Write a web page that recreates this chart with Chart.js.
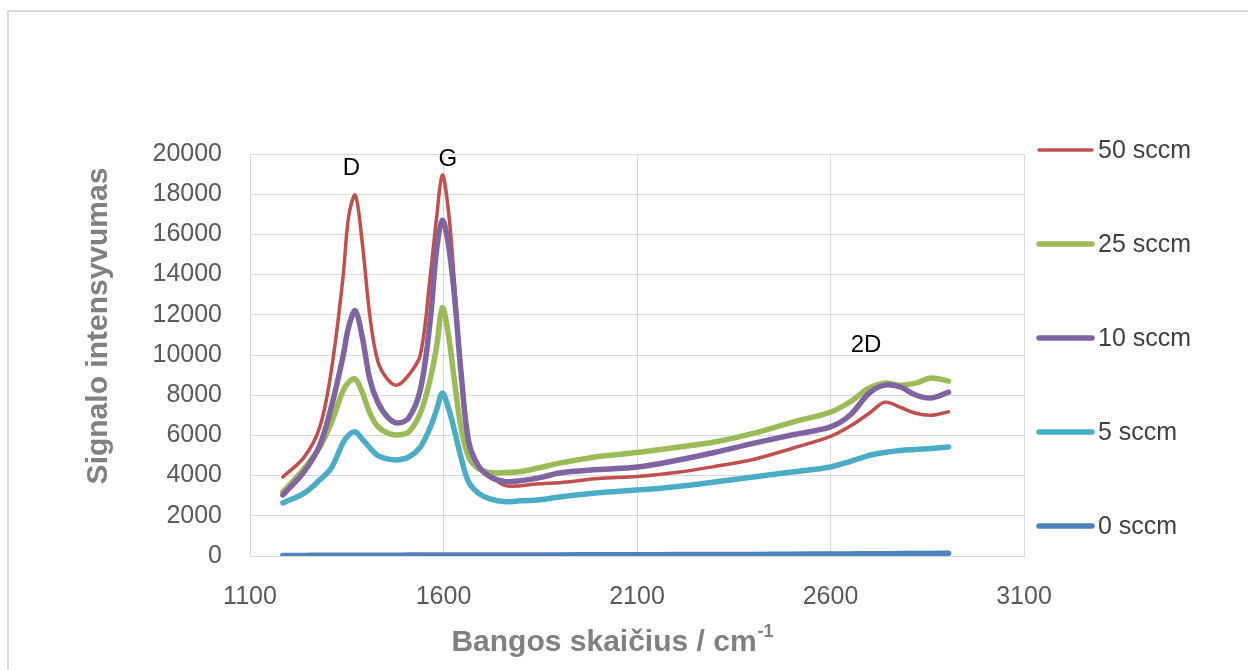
<!DOCTYPE html>
<html lang="lt">
<head>
<meta charset="utf-8">
<title>Ramano spektrai</title>
<script src="https://cdn.jsdelivr.net/npm/chart.js@4.4.1/dist/chart.umd.min.js"></script>
<style>
  html, body { margin: 0; padding: 0; background: #ffffff; }
  #wrap { position: relative; width: 1248px; height: 670px; }
</style>
</head>
<body>
<div id="wrap"><canvas id="chart" width="1248" height="670"></canvas></div>
<script>
// Bangos skaičius (cm-1)
const wavenumbers = [1185, 1240, 1280, 1310, 1340, 1355, 1372, 1390, 1410, 1430, 1455, 1480, 1510, 1540, 1565, 1582, 1597, 1612, 1628, 1645, 1665, 1690, 1720, 1760, 1800, 1850, 1900, 2000, 2100, 2200, 2300, 2400, 2500, 2600, 2650, 2700, 2740, 2780, 2820, 2860, 2905];

// Signalo intensyvumas kiekvienam srautui
const sccm50 = [3930, 4920, 6400, 9200, 13800, 16900, 17950, 15600, 11900, 9700, 8800, 8500, 9000, 10000, 13800, 16800, 18950, 17300, 13700, 9400, 5800, 4500, 4000, 3500, 3500, 3600, 3650, 3850, 3950, 4150, 4450, 4800, 5350, 5950, 6450, 7100, 7650, 7400, 7100, 7000, 7170];
const sccm25 = [3180, 4350, 5400, 6620, 8200, 8650, 8800, 8150, 7100, 6450, 6120, 6020, 6170, 7100, 8750, 10400, 12350, 11100, 8760, 6420, 4930, 4350, 4150, 4150, 4200, 4400, 4620, 4950, 5150, 5400, 5670, 6100, 6650, 7160, 7660, 8360, 8600, 8500, 8600, 8860, 8700];
const sccm10 = [3035, 4200, 5500, 7400, 9900, 11400, 12200, 10900, 8760, 7660, 6920, 6620, 6870, 8260, 11600, 15200, 16700, 15600, 13000, 9200, 5700, 4500, 3950, 3700, 3750, 3900, 4130, 4300, 4430, 4750, 5150, 5600, 6020, 6420, 7000, 8100, 8500, 8410, 8010, 7860, 8150];
const sccm5 = [2640, 3130, 3780, 4380, 5620, 6020, 6170, 5820, 5380, 5000, 4830, 4780, 4925, 5420, 6370, 7260, 8100, 7410, 6270, 4930, 3680, 3130, 2840, 2700, 2750, 2800, 2940, 3150, 3280, 3450, 3680, 3930, 4180, 4430, 4700, 5000, 5150, 5250, 5300, 5350, 5420];
const sccm0 = [30, 30, 35, 35, 35, 40, 40, 40, 40, 40, 40, 40, 45, 45, 45, 45, 45, 45, 45, 45, 45, 50, 50, 50, 50, 55, 55, 60, 65, 70, 75, 80, 90, 100, 105, 110, 115, 120, 125, 130, 140];

const seriesLabels = ['50 sccm', '25 sccm', '10 sccm', '5 sccm', '0 sccm'];
const seriesValues = [sccm50, sccm25, sccm10, sccm5, sccm0];
const seriesColors = ['#C0504D', '#9BBB59', '#8064A2', '#4BACC6', '#4F81BD'];
const seriesWidths = [3.5, 5.5, 5.5, 5.5, 5.5];

// Smailių pavadinimai ir jų vieta duomenų koordinatėmis
const peakNames = ['D', 'G', '2D'];
const peakX = [1362, 1611, 2692];
const peakY = [18955, 19420, 10170];

const xTicks = [1100, 1600, 2100, 2600, 3100];

const datasets = seriesLabels.map((label, i) => ({
  label,
  data: wavenumbers.map((w, k) => ({ x: w, y: seriesValues[i][k] })),
  borderColor: seriesColors[i],
  backgroundColor: seriesColors[i],
  borderWidth: seriesWidths[i],
  borderCapStyle: 'round',
  borderJoinStyle: 'round',
  pointRadius: 0,
  showLine: true,
  tension: 0.35,
  order: seriesLabels.length - 1 - i
}));

const FONT = '"Liberation Sans", Arial, sans-serif';

const decorations = {
  id: 'decorations',
  afterDraw(chart) {
    const ctx = chart.ctx;
    const area = chart.chartArea;
    const xs = chart.scales.x, ys = chart.scales.y;
    ctx.save();

    // outer frame (top and left edges)
    ctx.strokeStyle = '#d9d9d9';
    ctx.lineWidth = 2;
    ctx.beginPath();
    ctx.moveTo(8, 680);
    ctx.lineTo(8, 11);
    ctx.lineTo(1260, 11);
    ctx.stroke();

    // peak names
    ctx.fillStyle = '#000000';
    ctx.font = '24px ' + FONT;
    ctx.textAlign = 'center';
    ctx.textBaseline = 'alphabetic';
    peakNames.forEach((n, i) => {
      ctx.fillText(n, xs.getPixelForValue(peakX[i]), ys.getPixelForValue(peakY[i]));
    });

    // legend
    const step = (area.height - 26) / (seriesLabels.length - 1);
    seriesLabels.forEach((label, i) => {
      const y = area.top - 4 + i * step;
      ctx.strokeStyle = seriesColors[i];
      ctx.lineWidth = seriesWidths[i];
      ctx.lineCap = 'round';
      ctx.beginPath();
      ctx.moveTo(area.right + 15, y);
      ctx.lineTo(area.right + 68, y);
      ctx.stroke();
      ctx.fillStyle = '#404040';
      ctx.font = '25px ' + FONT;
      ctx.textAlign = 'left';
      ctx.textBaseline = 'middle';
      ctx.fillText(label, area.right + 74, y + 1);
    });

    // axis titles
    ctx.fillStyle = '#808080';
    ctx.textBaseline = 'alphabetic';
    const main = 'Bangos skaičius / cm';
    const sup = '-1';
    ctx.font = 'bold 30px ' + FONT;
    const wMain = ctx.measureText(main).width;
    ctx.font = 'bold 18px ' + FONT;
    const wSup = ctx.measureText(sup).width;
    const cx = 612;
    const x0 = cx - (wMain + wSup) / 2;
    ctx.textAlign = 'left';
    ctx.font = 'bold 30px ' + FONT;
    ctx.fillText(main, x0, 651);
    ctx.font = 'bold 18px ' + FONT;
    ctx.fillText(sup, x0 + wMain + 1, 637);

    ctx.translate(107, 326);
    ctx.rotate(-Math.PI / 2);
    ctx.textAlign = 'center';
    ctx.font = 'bold 30px ' + FONT;
    ctx.fillText('Signalo intensyvumas', 0, 0);

    ctx.restore();
  }
};

new Chart(document.getElementById('chart'), {
  type: 'scatter',
  data: { datasets },
  options: {
    responsive: false,
    animation: false,
    events: [],
    layout: { padding: { top: 154, right: 224, left: 0, bottom: 0 } },
    plugins: {
      legend: { display: false },
      tooltip: { enabled: false },
      title: { display: false }
    },
    scales: {
      x: {
        type: 'linear',
        min: 1100,
        max: 3100,
        afterFit(scale) { scale.height = 114; },
        afterBuildTicks(scale) { scale.ticks = xTicks.map(v => ({ value: v })); },
        grid: { color: '#d9d9d9', lineWidth: 1, drawTicks: false },
        border: { color: '#d9d9d9', width: 1 },
        ticks: {
          padding: 26,
          color: '#595959',
          font: { family: FONT, size: 25 },
          maxRotation: 0,
          callback: v => String(v)
        }
      },
      y: {
        min: 0,
        max: 20000,
        afterFit(scale) { scale.width = 250; },
        grid: { color: '#d9d9d9', lineWidth: 1, drawTicks: false },
        border: { color: '#d9d9d9', width: 1 },
        ticks: {
          stepSize: 2000,
          padding: 28,
          color: '#595959',
          font: { family: FONT, size: 25 },
          callback: v => String(v)
        }
      }
    }
  },
  plugins: [decorations]
});
</script>
</body>
</html>
